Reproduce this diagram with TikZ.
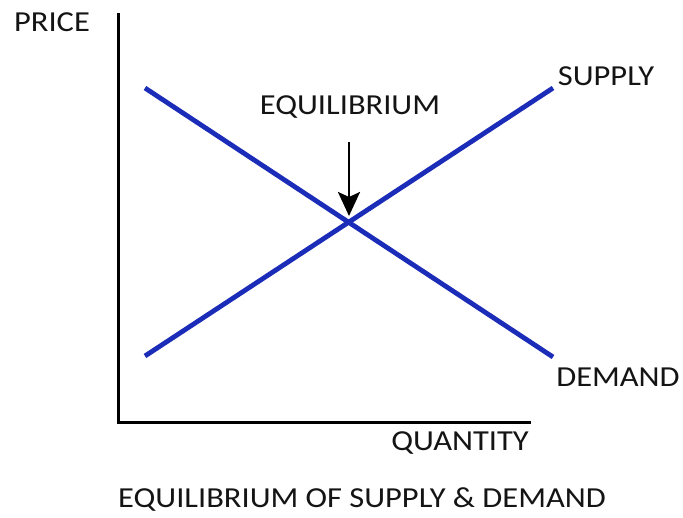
\documentclass[tikz,border=0pt]{standalone}
\usepackage{fontspec}
\setmainfont{Carlito}
\usetikzlibrary{arrows.meta}
\definecolor{curveblue}{RGB}{26,44,184}
\tikzset{
  lbl/.style={font=\fontsize{29}{29}\selectfont, text=black!92, inner sep=0pt, xscale=1.12, transform shape},
  axis/.style={draw=black, line width=3pt},
  curve/.style={draw=curveblue, line width=4.8pt},
  pointer/.style={draw=black, line width=2.8pt, -{Stealth[length=24pt, width=22pt, inset=5pt]}}
}
\begin{document}
\begin{tikzpicture}[x=1pt, y=-1pt]
\useasboundingbox (0,0) rectangle (683,517);
\fill[white] (0,0) rectangle (683,517);
\coordinate (ytop) at (118,13);
\coordinate (origin) at (118,422);
\coordinate (xend) at (531,422);
\coordinate (d1) at (145,88);
\coordinate (d2) at (553,357);
\coordinate (s1) at (145,356);
\coordinate (s2) at (553,88);
\coordinate (arrtop) at (349,142);
\coordinate (arrtip) at (349,216);
\draw[axis] (ytop) -- (origin) -- (xend);
\draw[curve] (d1) -- (d2);
\draw[curve] (s1) -- (s2);
\draw[pointer] (arrtop) -- (arrtip);
\node[lbl] (price) at (52,22) {PRICE};
\node[lbl] (equil) at (350,107) {EQUILIBRIUM};
\node[lbl] (supply) at (606,76) {SUPPLY};
\node[lbl] (demand) at (618,377) {DEMAND};
\node[lbl] (quantity) at (460,443) {QUANTITY};
\node[lbl] (title) at (362,500) {EQUILIBRIUM OF SUPPLY \& DEMAND};
\end{tikzpicture}
\end{document}
